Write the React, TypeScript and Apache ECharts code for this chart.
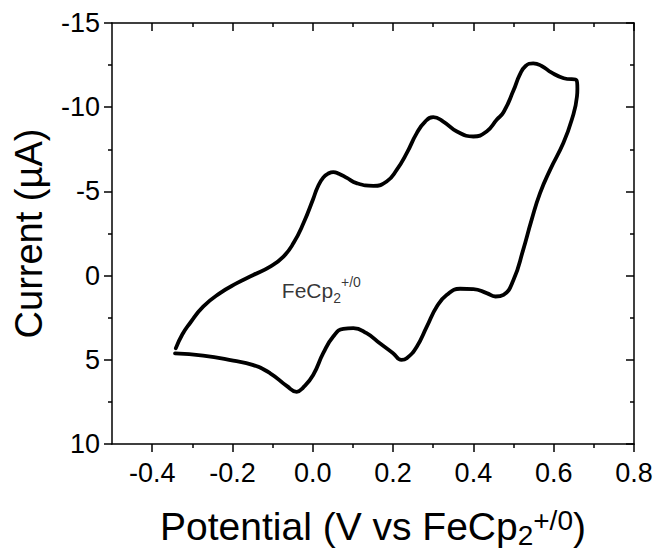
import React, { useEffect, useRef } from "react";
import * as echarts from "echarts";

// Forward (anodic) scan: potential (V vs FeCp2+/0) and current (µA)
const forwardPotential = [
  -0.341, -0.325, -0.306, -0.273, -0.231, -0.189, -0.148, -0.106, -0.073, -0.048,
  -0.023, 0.001, 0.012, 0.026, 0.04, 0.051, 0.065, 0.085, 0.109, 0.151,
  0.184, 0.209, 0.234, 0.259, 0.28, 0.3, 0.325, 0.359, 0.4, 0.433,
  0.458, 0.475, 0.5, 0.515, 0.53, 0.549, 0.57, 0.595, 0.625, 0.657,
];
const forwardCurrent = [
  4.31, 3.5, 2.83, 1.84, 1.04, 0.45, -0.04, -0.54, -1.13, -1.93,
  -3.12, -4.55, -5.25, -5.82, -6.08, -6.15, -6.05, -5.8, -5.49, -5.33,
  -5.59, -6.28, -7.27, -8.46, -9.15, -9.41, -9.15, -8.56, -8.26, -8.56,
  -9.25, -9.7, -11.0, -11.9, -12.45, -12.6, -12.45, -12.05, -11.72, -11.59,
];
// Reverse (cathodic) scan
const reversePotential = [
  0.659, 0.658, 0.645, 0.624, 0.591, 0.566, 0.545, 0.524, 0.5, 0.475,
  0.455, 0.433, 0.4, 0.367, 0.334, 0.309, 0.284, 0.259, 0.234, 0.221,
  0.2, 0.167, 0.134, 0.101, 0.076, 0.051, 0.026, 0.001, -0.024, -0.04,
  -0.065, -0.106, -0.15, -0.198, -0.273, -0.343,
];
const reverseCurrent = [
  -11.1, -10.64, -9.25, -7.87, -6.28, -4.9, -3.31, -1.53, 0.25, 1.14,
  1.24, 1.04, 0.8, 0.78, 1.14, 1.84, 3.03, 4.22, 4.91, 5.01,
  4.61, 4.02, 3.42, 3.12, 3.16, 3.62, 4.61, 5.9, 6.65, 6.9,
  6.55, 5.8, 5.3, 5.05, 4.75, 4.62,
];

const xMajorTicks = [-0.4, -0.2, 0, 0.2, 0.4, 0.6, 0.8];
const xMinorTicks = [-0.3, -0.1, 0.1, 0.3, 0.5, 0.7];
const xRange = [-0.5, 0.8];
const yRange = [-15, 10];
const yInterval = 5;

// annotation anchor in data coordinates
const labelAnchor = [-0.077, 0.89];

const FONT = "'Liberation Sans', Arial, sans-serif";
const BLACK = "#000";

export default function App() {
  const ref = useRef<HTMLDivElement>(null);

  useEffect(() => {
    document.body.style.margin = "0";
    if (!ref.current) return;
    const chart = echarts.init(ref.current, null, { renderer: "svg" });

    const curve: number[][] = [];
    forwardPotential.forEach((x, i) => curve.push([x, forwardCurrent[i]]));
    reversePotential.forEach((x, i) => curve.push([x, reverseCurrent[i]]));

    const line = { color: BLACK, width: 1.5 };

    const xBase = {
      type: "value",
      min: xRange[0],
      max: xRange[1],
      splitLine: { show: false },
    };
    const yBase = {
      type: "value",
      inverse: true,
      min: yRange[0],
      max: yRange[1],
      interval: yInterval,
      splitLine: { show: false },
    };

    chart.setOption({
      animation: false,
      backgroundColor: "#fff",
      textStyle: { fontFamily: FONT },
      grid: {
        left: 112,
        top: 23,
        right: 23,
        bottom: 108,
        containLabel: false,
        outerBoundsMode: "none",
      },
      xAxis: [
        {
          ...xBase,
          position: "bottom",
          axisLine: { show: true, onZero: false, lineStyle: line },
          axisTick: { show: true, inside: false, length: 8, customValues: xMajorTicks, lineStyle: line },
          axisLabel: {
            show: true,
            customValues: xMajorTicks,
            formatter: (v: number) => v.toFixed(1),
            fontSize: 27,
            color: BLACK,
            fontFamily: FONT,
            margin: 15,
          },
          name: "{a|Potential (V vs FeCp}{sub|2}{sup|+/0}{a|)}",
          nameLocation: "middle",
          nameGap: 59,
          nameTextStyle: {
            fontFamily: FONT,
            color: BLACK,
            rich: {
              a: { fontSize: 39, fontFamily: FONT, color: BLACK },
              sub: { fontSize: 28, fontFamily: FONT, color: BLACK, padding: [18, 0, 0, 0] },
              sup: { fontSize: 28, fontFamily: FONT, color: BLACK, padding: [0, 0, 12, 0] },
            },
          },
        },
        {
          ...xBase,
          position: "bottom",
          axisLine: { show: false, onZero: false },
          axisTick: { show: true, inside: false, length: 4, customValues: xMinorTicks, lineStyle: line },
          axisLabel: { show: false },
        },
        {
          ...xBase,
          position: "top",
          axisLine: { show: true, onZero: false, lineStyle: line },
          axisTick: { show: true, inside: true, length: 8, customValues: xMajorTicks, lineStyle: line },
          axisLabel: { show: false },
        },
        {
          ...xBase,
          position: "top",
          axisLine: { show: false, onZero: false },
          axisTick: { show: true, inside: true, length: 4, customValues: xMinorTicks, lineStyle: line },
          axisLabel: { show: false },
        },
      ],
      yAxis: [
        {
          ...yBase,
          position: "left",
          axisLine: { show: true, onZero: false, lineStyle: line },
          axisTick: { show: true, inside: false, length: 8, lineStyle: line },
          minorTick: { show: true, splitNumber: 2, length: 4, lineStyle: line },
          axisLabel: { show: true, fontSize: 27, color: BLACK, fontFamily: FONT, margin: 12 },
          name: "Current (µA)",
          nameLocation: "middle",
          nameRotate: 90,
          nameGap: 64,
          nameTextStyle: { fontSize: 38, color: BLACK, fontFamily: FONT },
        },
        {
          ...yBase,
          position: "right",
          axisLine: { show: true, onZero: false, lineStyle: line },
          axisTick: { show: true, inside: true, length: 8, lineStyle: line },
          minorTick: { show: true, splitNumber: 2, length: 4, lineStyle: line },
          axisLabel: { show: false },
        },
      ],
      series: [
        {
          type: "line",
          xAxisIndex: 0,
          yAxisIndex: 0,
          data: curve,
          showSymbol: false,
          symbol: "none",
          smooth: 0.5,
          lineStyle: { color: BLACK, width: 3.8, join: "round", cap: "round" },
          silent: true,
        },
        {
          type: "scatter",
          xAxisIndex: 0,
          yAxisIndex: 0,
          data: [labelAnchor],
          symbolSize: 0,
          silent: true,
          label: {
            show: true,
            position: "right",
            distance: 0,
            formatter: "{a|FeCp}{sub|2}{sup|+/0}",
            rich: {
              a: { fontSize: 21, fontFamily: FONT, color: BLACK },
              sub: { fontSize: 14, fontFamily: FONT, color: BLACK, padding: [14, 0, 0, 0] },
              sup: { fontSize: 14, fontFamily: FONT, color: BLACK, padding: [0, 0, 17, 0] },
            },
          },
        },
      ],
    });

    return () => chart.dispose();
  }, []);

  return <div ref={ref} style={{ width: 657, height: 552 }} />;
}
